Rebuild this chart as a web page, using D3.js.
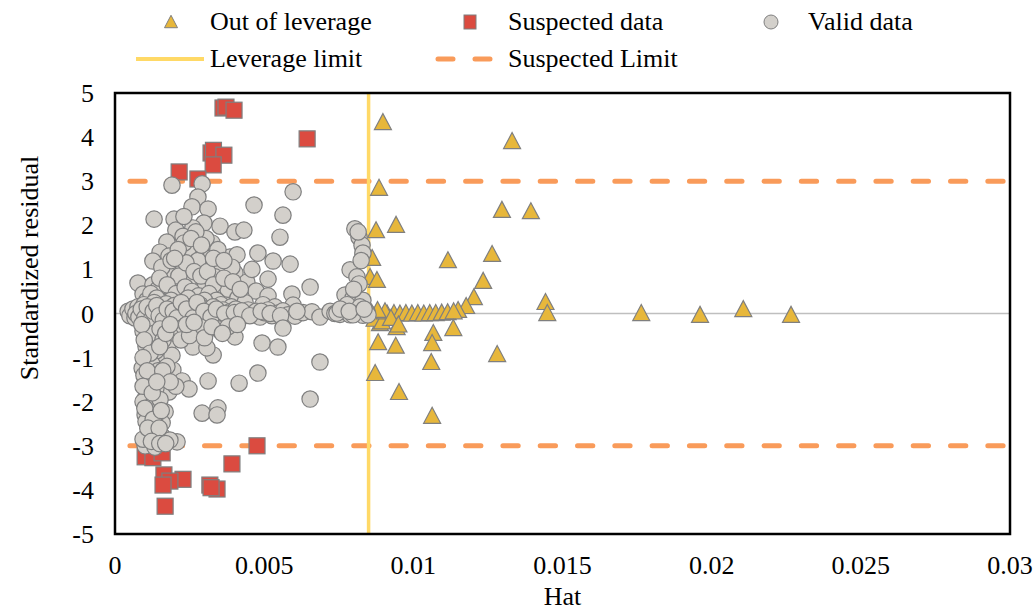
<!DOCTYPE html>
<html><head><meta charset="utf-8">
<script src="https://cdn.jsdelivr.net/npm/d3@7"></script>
</head><body><svg id="c" width="1035" height="610"></svg>
<script>
// ---- data ----
const xTicks = [0, 0.005, 0.01, 0.015, 0.02, 0.025, 0.03];
const xTickLabels = ["0", "0.005", "0.01", "0.015", "0.02", "0.025", "0.03"];
const yTicks = [5, 4, 3, 2, 1, 0, -1, -2, -3, -4, -5];
const leverageLimit = 0.0085;
const suspectedLimits = [3, -3];
const limitStartHat = 0.0005;
const legendLabels = ["Out of leverage", "Suspected data", "Valid data", "Leverage limit", "Suspected Limit"];
const axisTitles = {x: "Hat", y: "Standardized residual"};

const outOfLeverage = [
 [0.00898,4.34],[0.01331,3.91],[0.00885,2.85],[0.01297,2.35],[0.01394,2.32],[0.00942,2.01],[0.00875,1.89],
 [0.01116,1.21],[0.00862,1.26],[0.01264,1.35],[0.01234,0.74],[0.01203,0.37],[0.00855,0.83],[0.00878,0.76],
 [0.01177,0.17],[0.0115,0.08],
 [0.00912,0.00],[0.00935,0.01],[0.00955,0.00],[0.00975,0.01],[0.00995,0.00],[0.01015,0.01],[0.01035,0.00],
 [0.01055,0.01],[0.01075,0.01],[0.01095,0.02],[0.01115,0.03],[0.01135,0.05],
 [0.01443,0.26],[0.01449,0.01],[0.01764,0.01],[0.01961,-0.03],[0.02106,0.10],[0.02266,-0.03],
 [0.00944,-0.31],[0.00888,-0.22],[0.01067,-0.44],[0.01134,-0.33],[0.00882,-0.65],[0.00941,-0.73],
 [0.01063,-0.67],[0.0106,-1.10],[0.01281,-0.92],[0.00872,-1.35],[0.00952,-1.78],[0.01063,-2.32],
 [0.00860,0.02],[0.00870,-0.12],[0.00895,-0.18],[0.00905,0.05],[0.00925,-0.10],[0.00950,-0.25],[0.00880,0.08]
];
const suspectedData = [
 [0.00362,4.66],[0.00372,4.68],[0.00399,4.61],[0.00644,3.96],[0.00322,3.64],[0.00330,3.70],[0.00365,3.59],
 [0.00329,3.37],[0.00215,3.21],[0.00278,3.05],
 [0.00476,-3.00],[0.00101,-3.25],[0.00127,-3.27],[0.00158,-3.16],[0.00392,-3.41],[0.00164,-3.66],
 [0.00228,-3.76],[0.00184,-3.80],[0.00161,-3.89],[0.00318,-3.89],[0.00342,-3.98],[0.00322,-3.95],[0.00168,-4.37]
];
const validData = [
 [0.00191,2.91],[0.00292,2.94],[0.00278,2.64],[0.00258,2.42],[0.00312,2.37],[0.00597,2.76],[0.00466,2.46],
 [0.00131,2.14],[0.00563,2.23],[0.00198,2.14],[0.00298,2.05],[0.00204,1.89],[0.00261,1.94],[0.00352,1.98],
 [0.00402,1.85],[0.00432,1.89],[0.00325,1.60],[0.00553,1.73],[0.00174,1.62],[0.00151,1.39],[0.00268,1.51],
 [0.00221,1.33],[0.00479,1.37],[0.00530,1.19],[0.00587,1.12],[0.00127,1.19],[0.00292,1.10],[0.00385,1.28],
 [0.00409,1.33],[0.00345,1.05],[0.00241,0.96],[0.00402,0.92],[0.00335,0.83],[0.00513,0.78],[0.00654,0.60],
 [0.00194,0.76],[0.00077,0.69],[0.00127,0.65],[0.00168,0.46],[0.00285,0.69],[0.00442,0.71],[0.00473,0.51],
 [0.00593,0.44],[0.00094,0.44],[0.00218,0.53],[0.00362,0.44],[0.00513,0.40],[0.00597,0.19],[0.00164,0.19],
 [0.00117,0.31],[0.00261,0.26],[0.00325,0.26],
 [0.00228,1.75],[0.00245,1.45],[0.00305,1.70],[0.00318,1.25],[0.00278,1.20],[0.00208,1.05],[0.00184,0.90],
 [0.00251,0.80],[0.00298,0.55],[0.00352,0.65],[0.00379,0.55],[0.00412,0.35],[0.00436,0.25],[0.00225,0.35],
 [0.00201,0.62],[0.00144,0.55],[0.00107,0.30],[0.00181,1.30],[0.00231,2.20],[0.00271,1.85],[0.00345,1.45],
 [0.00392,1.05],[0.00459,1.00],[0.00496,0.20],[0.00536,0.15],
 [0.00157,1.05],[0.00188,1.20],[0.00214,0.85],[0.00238,1.15],[0.00265,0.95],[0.00288,0.85],[0.00310,0.95],
 [0.00330,0.65],[0.00365,0.80],[0.00395,0.72],[0.00420,0.55],[0.00150,0.80],[0.00175,0.65],[0.00205,0.45],
 [0.00235,0.60],[0.00258,0.50],[0.00280,0.40],[0.00315,0.45],[0.00340,0.30],[0.00120,0.45],[0.00140,0.35],
 [0.00188,0.30],[0.00215,0.20],[0.00245,0.35],[0.00272,0.15],[0.00300,0.30],[0.00355,0.20],[0.00390,0.15],
 [0.00232,1.60],[0.00255,1.70],[0.00212,1.45],[0.00290,1.55],[0.00330,1.25],[0.00365,1.20],[0.00200,1.25],
 [0.00044,0.05],[0.00050,-0.05],[0.00060,0.10],[0.00067,-0.10],[0.00077,0.15],[0.00084,0.00],[0.00091,-0.15],
 [0.00097,0.20],[0.00104,0.05],[0.00111,-0.20],[0.00117,0.12],[0.00124,-0.05],[0.00131,0.25],[0.00137,-0.12],
 [0.00144,0.08],[0.00151,-0.25],[0.00158,0.15],[0.00164,-0.02],[0.00171,0.22],[0.00178,-0.18],[0.00184,0.05],
 [0.00191,-0.08],[0.00198,0.18],[0.00204,-0.22],[0.00211,0.02],[0.00218,0.12],[0.00225,-0.12],[0.00235,0.04],
 [0.00245,-0.05],[0.00251,0.15],[0.00258,-0.20],[0.00268,0.06],[0.00278,-0.08],[0.00285,0.20],[0.00292,-0.02],
 [0.00302,0.10],[0.00312,-0.15],[0.00318,0.03],[0.00329,0.15],[0.00335,-0.05],[0.00345,0.02],[0.00352,-0.18],
 [0.00362,0.08],[0.00372,-0.03],[0.00385,0.04],[0.00395,-0.10],[0.00405,0.10],[0.00419,0.00],[0.00432,-0.05],
 [0.00446,0.08],[0.00459,-0.02],[0.00473,0.05],[0.00486,-0.08],[0.00500,0.02],[0.00513,0.08],[0.00526,-0.05],
 [0.00546,0.01],[0.00563,0.06],[0.00580,-0.03],[0.00603,-0.06],[0.00630,0.02],[0.00660,0.04],[0.00687,-0.08],
 [0.00721,0.05],[0.00737,0.00],[0.00754,-0.02],[0.00771,0.04],[0.00788,-0.03],[0.00804,0.02],[0.00818,0.00],
 [0.00831,-0.04],[0.00845,0.03],
 [0.00070,0.00],[0.00080,-0.08],[0.00088,0.10],[0.00100,-0.10],[0.00108,0.15],[0.00120,-0.15],[0.00128,0.05],
 [0.00140,0.18],[0.00148,-0.05],[0.00162,-0.15],[0.00175,0.10],[0.00195,0.05],[0.00208,-0.10],[0.00222,0.25],
 [0.00240,0.10],[0.00262,-0.10],[0.00275,0.25],[0.00298,0.05],[0.00322,-0.08],[0.00340,0.10],[0.00368,0.00],
 [0.00400,0.02],[0.00425,0.06],[0.00452,-0.05],[0.00490,0.05],[0.00520,0.00],[0.00555,-0.05],[0.00610,0.05],
 [0.00687,-1.10],[0.00654,-1.94],[0.00493,-0.67],[0.00546,-0.76],[0.00563,-0.33],[0.00402,-0.53],
 [0.00479,-1.35],[0.00416,-1.58],
 [0.00329,-0.94],[0.00261,-0.76],[0.00308,-0.78],[0.00178,-0.71],[0.00101,-1.05],[0.00161,-1.05],[0.00091,-1.24],
 [0.00194,-1.28],[0.00168,-1.51],[0.00225,-1.53],[0.00312,-1.53],[0.00248,-1.71],[0.00181,-1.78],[0.00104,-1.89],
 [0.00101,-2.30],[0.00168,-2.23],[0.00292,-2.26],[0.00345,-2.14],[0.00342,-2.30],[0.00158,-2.48],[0.00124,-2.60],
 [0.00158,-2.78],[0.00208,-2.91],[0.00101,-3.00],[0.00134,-3.03],[0.00184,-2.87],
 [0.00094,-0.40],[0.00111,-0.55],[0.00131,-0.45],[0.00151,-0.35],[0.00104,-0.75],[0.00137,-0.85],[0.00161,-0.60],
 [0.00097,-1.40],[0.00124,-1.15],[0.00144,-1.30],[0.00111,-1.60],[0.00137,-1.70],[0.00094,-2.00],[0.00121,-2.10],
 [0.00151,-1.95],[0.00104,-2.45],[0.00134,-2.35],[0.00117,-2.75],[0.00094,-2.85],[0.00201,-0.45],[0.00231,-0.30],
 [0.00271,-0.40],[0.00191,-0.95],[0.00221,-0.60],[0.00285,-0.30],[0.00345,-0.35],[0.00379,-0.30],[0.00174,-1.20],
 [0.00204,-1.65],
 [0.00090,-0.25],[0.00098,-0.60],[0.00118,-0.90],[0.00094,-1.00],[0.00108,-1.30],[0.00094,-1.65],[0.00125,-1.80],
 [0.00100,-2.15],[0.00128,-2.40],[0.00110,-2.60],[0.00148,-2.60],[0.00122,-2.90],[0.00150,-2.95],[0.00170,-2.95],
 [0.00150,-0.75],[0.00170,-0.45],[0.00185,-0.25],[0.00160,-1.30],[0.00185,-1.55],[0.00140,-1.55],[0.00155,-2.20],
 [0.00250,-0.50],[0.00300,-0.55],[0.00240,-0.25],[0.00265,-0.20],[0.00325,-0.30],[0.00360,-0.45],[0.00410,-0.25],
 [0.00804,1.92],[0.00818,1.73],[0.00828,1.55],[0.00831,1.37],[0.00788,0.99],[0.00811,0.83],[0.00818,0.67],
 [0.00771,0.42],[0.00798,0.35],[0.00831,0.30],[0.00744,0.01],[0.00798,-0.03],[0.00848,-0.03],[0.00778,0.20],
 [0.00821,0.15],[0.00755,0.10],[0.00815,1.85],[0.00825,1.20],[0.00800,0.55],[0.00785,0.05],[0.00835,0.10]
];

// ---- drawing ----
d3.select("body").style("margin", "0px").style("background", "#fff");
const FONT = '"Times New Roman"';
const svg = d3.select("#c").style("display", "block");
const M = {left:115, right:1010, top:93, bottom:534};
const x = d3.scaleLinear().domain([0, 0.03]).range([M.left, M.right]);
const y = d3.scaleLinear().domain([-5, 5]).range([M.bottom, M.top]);

const C = {tri:"#E7B73B", sq:"#DB4B40", circ:"#D3D0CB", stroke:"#7F7F7F", lev:"#FFD966", sus:"#F99B5A"};

svg.append("line").attr("x1", x(0)).attr("x2", x(0.03)).attr("y1", y(0)).attr("y2", y(0))
  .attr("stroke", "#BFBFBF").attr("stroke-width", 1.5);

suspectedLimits.forEach(v => {
  svg.append("line").attr("x1", x(limitStartHat)).attr("x2", x(0.03)).attr("y1", y(v)).attr("y2", y(v))
    .attr("stroke", C.sus).attr("stroke-width", 5).attr("stroke-linecap", "round")
    .attr("stroke-dasharray", "15.3,22");
});
svg.append("line").attr("x1", x(leverageLimit)).attr("x2", x(leverageLimit)).attr("y1", y(-5)).attr("y2", y(5))
  .attr("stroke", C.lev).attr("stroke-width", 3.5);

const triPath = s => { const h = s*0.88; return `M0,${-h/2-1}L${s/2},${h/2}L${-s/2},${h/2}Z`; };

svg.append("g").selectAll("path").data(outOfLeverage).join("path")
  .attr("d", triPath(17)).attr("transform", d => `translate(${x(d[0])},${y(d[1])})`)
  .attr("fill", C.tri).attr("stroke", C.stroke).attr("stroke-width", 1.2);

svg.append("g").selectAll("rect").data(suspectedData).join("rect")
  .attr("x", d => x(d[0]) - 8).attr("y", d => y(d[1]) - 8).attr("width", 16).attr("height", 16)
  .attr("fill", C.sq).attr("stroke", C.stroke).attr("stroke-width", 1.2);

svg.append("g").selectAll("circle").data(validData).join("circle")
  .attr("cx", d => x(d[0])).attr("cy", d => y(d[1])).attr("r", 8.2)
  .attr("fill", C.circ).attr("stroke", C.stroke).attr("stroke-width", 1.2);

svg.append("rect").attr("x", M.left).attr("y", M.top).attr("width", M.right - M.left).attr("height", M.bottom - M.top)
  .attr("fill", "none").attr("stroke", "#000").attr("stroke-width", 2.5);

const fs = 26;
function addText(px, py, str, anchor, transform) {
  const t = svg.append("text").attr("font-size", fs).style("font-family", FONT).text(str);
  if (transform) t.attr("transform", transform); else t.attr("x", px).attr("y", py);
  if (anchor) t.attr("text-anchor", anchor);
  return t;
}
xTicks.forEach((d, i) => addText(x(d), 574, xTickLabels[i], "middle"));
yTicks.forEach(d => addText(94, y(d) + 9, String(d), "end"));
addText(x(0.015), 605, axisTitles.x, "middle");
addText(0, 0, axisTitles.y, "middle", "translate(38,268) rotate(-90)");

svg.append("path").attr("d", triPath(13)).attr("transform", "translate(171,22)")
  .attr("fill", C.tri).attr("stroke", C.stroke).attr("stroke-width", 1);
svg.append("rect").attr("x", 464).attr("y", 15).attr("width", 12).attr("height", 14)
  .attr("fill", C.sq).attr("stroke", C.stroke).attr("stroke-width", 1);
svg.append("circle").attr("cx", 771).attr("cy", 22).attr("r", 7)
  .attr("fill", C.circ).attr("stroke", C.stroke).attr("stroke-width", 1);
svg.append("line").attr("x1", 136).attr("x2", 204).attr("y1", 59).attr("y2", 59)
  .attr("stroke", C.lev).attr("stroke-width", 4);
svg.append("line").attr("x1", 438).attr("x2", 494).attr("y1", 59).attr("y2", 59)
  .attr("stroke", C.sus).attr("stroke-width", 5).attr("stroke-linecap", "round").attr("stroke-dasharray", "15,22");
const lt = [[210, 30, 0], [508, 30, 1], [808, 30, 2], [210, 67, 3], [508, 67, 4]];
lt.forEach(d => addText(d[0], d[1], legendLabels[d[2]]));
</script></body></html>
